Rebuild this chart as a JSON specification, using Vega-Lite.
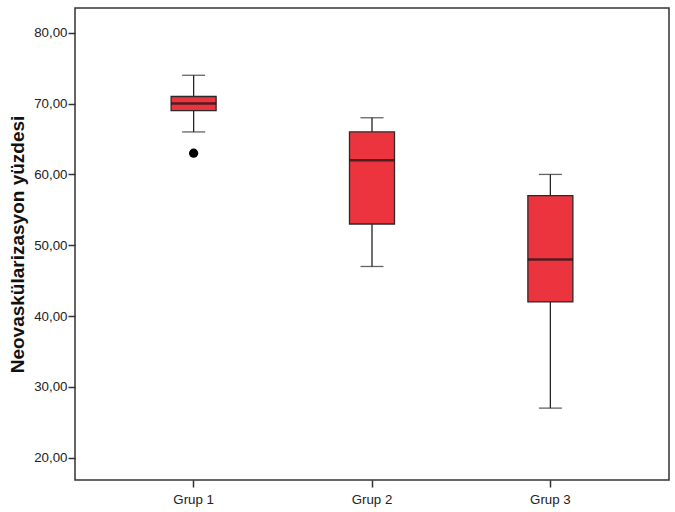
{
  "$schema": "https://vega.github.io/schema/vega-lite/v6.json",
  "width": 594,
  "height": 472,
  "autosize": {"type": "none"},
  "padding": {"left": 75, "top": 8, "right": 6, "bottom": 32},
  "background": "white",
  "config": {
    "font": "Liberation Sans",
    "view": {"stroke": "#333333", "strokeWidth": 1.5},
    "axis": {"grid": false, "domain": false, "tickColor": "#333333", "tickSize": 7, "tickWidth": 1.5, "labelFont": "Liberation Sans", "labelFontSize": 13.3, "labelColor": "#222222"}
  },
  "datasets": {
    "stats": [
      {"group": "Grup 1", "lo": 66, "q1": 69, "median": 70, "q3": 71, "hi": 74},
      {"group": "Grup 2", "lo": 47, "q1": 53, "median": 62, "q3": 66, "hi": 68},
      {"group": "Grup 3", "lo": 27, "q1": 42, "median": 48, "q3": 57, "hi": 60}
    ],
    "outliers": [
      {"group": "Grup 1", "value": 63}
    ]
  },
  "encoding": {
    "x": {
      "field": "group", "type": "nominal",
      "scale": {"type": "band", "paddingInner": 0, "paddingOuter": 0.165},
      "axis": {"title": null, "labelAngle": 0, "labelPadding": 5}
    }
  },
  "layer": [
    {
      "data": {"name": "stats"},
      "mark": {"type": "rule", "color": "#222222", "strokeWidth": 1.3},
      "encoding": {
        "y": {"field": "lo", "type": "quantitative",
          "scale": {"domain": [16.85, 83.5], "nice": false, "zero": false},
          "axis": {"values": [20, 30, 40, 50, 60, 70, 80], "labelExpr": "replace(format(datum.value, '.2f'), '.', ',')", "title": "Neovaskülarizasyon yüzdesi", "titleFont": "Liberation Sans", "titleFontSize": 19, "titleFontWeight": "bold", "titleColor": "#111111", "titlePadding": 6, "labelPadding": 1}},
        "y2": {"field": "hi"}
      }
    },
    {
      "data": {"name": "stats"},
      "mark": {"type": "tick", "color": "#222222", "size": 23, "thickness": 1.3, "orient": "horizontal"},
      "encoding": {"y": {"field": "lo", "type": "quantitative"}}
    },
    {
      "data": {"name": "stats"},
      "mark": {"type": "tick", "color": "#222222", "size": 23, "thickness": 1.3, "orient": "horizontal"},
      "encoding": {"y": {"field": "hi", "type": "quantitative"}}
    },
    {
      "data": {"name": "stats"},
      "mark": {"type": "bar", "size": 45, "color": "#EB343E", "stroke": "#2a2a2a", "strokeWidth": 1.3},
      "encoding": {
        "y": {"field": "q1", "type": "quantitative"},
        "y2": {"field": "q3"}
      }
    },
    {
      "data": {"name": "stats"},
      "mark": {"type": "tick", "color": "#111111", "size": 45, "thickness": 2.5, "orient": "horizontal"},
      "encoding": {"y": {"field": "median", "type": "quantitative"}}
    },
    {
      "data": {"name": "outliers"},
      "mark": {"type": "point", "filled": true, "color": "#000000", "size": 85, "opacity": 1},
      "encoding": {"y": {"field": "value", "type": "quantitative"}}
    }
  ]
}
